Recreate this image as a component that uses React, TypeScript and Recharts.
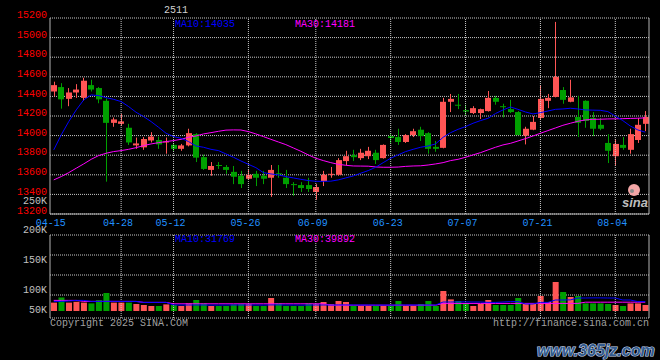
import { ComposedChart, Bar, Line, XAxis, YAxis, CartesianGrid, ReferenceLine, Cell } from 'recharts';

// trading days shown on the chart (MM-DD)
const DATES = [
  '04-15', '04-16', '04-17', '04-18', '04-21', '04-22', '04-23', '04-24', '04-25', '04-28', '04-29', '04-30',
  '05-06', '05-07', '05-08', '05-09', '05-12', '05-13', '05-14', '05-15', '05-16', '05-19', '05-20', '05-21',
  '05-22', '05-23', '05-26', '05-27', '05-28', '05-29', '05-30',
  '06-03', '06-04', '06-05', '06-06', '06-09', '06-10', '06-11', '06-12', '06-13', '06-16', '06-17', '06-18',
  '06-19', '06-20', '06-23', '06-24', '06-25', '06-26', '06-27', '06-30',
  '07-01', '07-02', '07-03', '07-04', '07-07', '07-08', '07-09', '07-10', '07-11', '07-14', '07-15', '07-16',
  '07-17', '07-18', '07-21', '07-22', '07-23', '07-24', '07-25', '07-28', '07-29', '07-30', '07-31',
  '08-01', '08-04', '08-05', '08-06', '08-07', '08-08',
];

const OPEN = [
  14450, 14495, 14375, 14440, 14385, 14515, 14485, 14355, 14130, 14120,
  14080, 13900, 13880, 13950, 13955, 13935, 13905, 13865, 13900, 14015,
  13780, 13650, 13700, 13680, 13630, 13590, 13560, 13610, 13590, 13570,
  13615, 13570, 13505, 13495, 13495, 13425, 13535, 13605, 13600, 13740,
  13800, 13770, 13790, 13825, 13770, 13995, 13985, 13935, 14005, 14060,
  14025, 13885, 13875, 14345, 14315, 14260, 14230, 14230, 14250, 14385,
  14300, 14270, 14240, 14000, 14060, 14180, 14355, 14395, 14465, 14345,
  14190, 14355, 14180, 14110, 13925, 13790, 13905, 13855, 13955, 14120,
];
const HIGH = [
  14550, 14535, 14485, 14525, 14590, 14570, 14495, 14380, 14185, 14220,
  14120, 13980, 13985, 14035, 13990, 13980, 13920, 13915, 14070, 14025,
  13805, 13730, 13730, 13700, 13690, 13640, 13650, 13640, 13640, 13700,
  13700, 13650, 13525, 13525, 13570, 13505, 13640, 13680, 13770, 13845,
  13855, 13865, 13885, 13855, 13910, 14015, 14070, 14015, 14070, 14090,
  14035, 13945, 14385, 14425, 14425, 14315, 14300, 14275, 14455, 14405,
  14325, 14365, 14250, 14090, 14200, 14515, 14425, 15160, 14495, 14570,
  14405, 14360, 14240, 14180, 14015, 13965, 13985, 14070, 14180, 14250,
];
const LOW = [
  14400, 14275, 14300, 14385, 14355, 14450, 14330, 13530, 14090, 14100,
  13905, 13865, 13855, 13930, 13865, 13815, 13845, 13845, 13890, 13730,
  13650, 13590, 13660, 13610, 13505, 13465, 13555, 13485, 13505, 13375,
  13570, 13465, 13385, 13425, 13425, 13345, 13485, 13570, 13590, 13700,
  13740, 13750, 13760, 13710, 13765, 13925, 13905, 13925, 13985, 13945,
  13815, 13835, 13870, 14240, 14270, 14210, 14220, 14170, 14245, 14315,
  14185, 14230, 14005, 13910, 14055, 14160, 14280, 14390, 14325, 14340,
  13985, 14080, 13995, 14055, 13720, 13690, 13855, 13815, 13925, 14045,
];
const CLOSE = [
  14515, 14370, 14440, 14470, 14560, 14470, 14370, 14130, 14165, 14145,
  13930, 13920, 13965, 13990, 13910, 13940, 13865, 13900, 14025, 13775,
  13660, 13690, 13690, 13650, 13580, 13505, 13600, 13570, 13560, 13650,
  13605, 13505, 13495, 13465, 13455, 13475, 13600, 13610, 13750, 13790,
  13780, 13825, 13845, 13750, 13905, 13975, 13935, 14005, 14045, 13995,
  13865, 13865, 14345, 14375, 14305, 14245, 14280, 14270, 14385, 14345,
  14290, 14240, 14005, 14070, 14140, 14375, 14385, 14600, 14365, 14390,
  14130, 14150, 14070, 14070, 13845, 13915, 13875, 14015, 14110, 14190,
];

const MA10 = [
  13854, 14007, 14143, 14262, 14364, 14415, 14408, 14387, 14370, 14347,
  14296, 14238, 14194, 14143, 14085, 14024, 13990, 13973, 13939, 13894,
  13881, 13860, 13847, 13813, 13779, 13741, 13707, 13673, 13622, 13609,
  13599, 13582, 13568, 13554, 13541, 13534, 13533, 13535, 13548, 13568,
  13588, 13616, 13643, 13677, 13724, 13769, 13803, 13837, 13860, 13881,
  13894, 13915, 13983, 14030, 14064, 14092, 14126, 14153, 14177, 14225,
  14262, 14292, 14268, 14241, 14221, 14234, 14251, 14268, 14272, 14279,
  14272, 14262, 14260, 14258, 14245, 14200, 14153, 14098, 14058, 14035,
];
const MA30 = [
  13548, 13582, 13622, 13667, 13711, 13758, 13796, 13820, 13837, 13847,
  13860, 13877, 13898, 13915, 13928, 13939, 13949, 13962, 13983, 13996,
  14017, 14030, 14044, 14056, 14058, 14057, 14041, 14017, 13990, 13962,
  13935, 13908, 13874, 13840, 13803, 13769, 13745, 13724, 13707, 13697,
  13690, 13689, 13688, 13680, 13677, 13677, 13679, 13686, 13690, 13692,
  13700, 13711, 13724, 13745, 13758, 13779, 13803, 13826, 13854, 13881,
  13905, 13921, 13945, 13969, 13996, 14024, 14051, 14078, 14105, 14126,
  14146, 14160, 14166, 14167, 14170, 14171, 14173, 14175, 14177, 14181,
];

const VOLUME = [
  21000, 34000, 21000, 23000, 21000, 19000, 27000, 45000, 21000, 21000,
  21000, 17500, 15000, 12500, 12500, 16500, 15000, 12500, 19000, 27500,
  19000, 12500, 12500, 12500, 16500, 17500, 17500, 12500, 12500, 32500,
  19000, 12500, 12500, 12500, 19000, 17500, 22500, 17500, 25000, 22500,
  12500, 12500, 12500, 12500, 12500, 12500, 25000, 12500, 12500, 17500,
  25000, 12500, 50000, 29000, 25000, 19000, 12500, 17500, 27500, 15000,
  15000, 15000, 32500, 19000, 19000, 37500, 22500, 72500, 47500, 35000,
  37500, 19000, 19000, 19000, 17500, 15000, 12500, 19000, 19000, 15000,
];
const VOL_MA10 = [
  24000, 24000, 25000, 26500, 26500, 24000, 24000, 24200, 24200, 24000,
  24000, 23800, 21500, 21500, 21500, 21500, 15200, 15000, 15000, 15000,
  15000, 14800, 14800, 15000, 15000, 15000, 15000, 15000, 14800, 15200,
  15200, 15000, 15000, 14800, 14800, 15000, 15000, 15000, 15200, 15200,
  15000, 15000, 15000, 14800, 14800, 14800, 15000, 15000, 15000, 15000,
  15000, 15000, 22500, 22500, 22800, 22800, 22500, 22500, 21500, 21500,
  22500, 23500, 23500, 17500, 17500, 21500, 21500, 27500, 27500, 27800,
  32500, 32500, 32800, 32800, 32500, 32500, 27500, 27500, 23500, 23500,
];
const VOL_MA30 = [
  26500, 26500, 26500, 26500, 24000, 24000, 24000, 24000, 24000, 24000,
  24000, 24000, 21500, 21500, 21500, 21500, 18000, 18000, 18000, 18000,
  18000, 18000, 18000, 18000, 18000, 18000, 18000, 18000, 18000, 18000,
  18000, 18000, 18000, 18000, 18000, 18000, 18000, 14500, 14500, 14500,
  14500, 14500, 14500, 14500, 14500, 14500, 14500, 14500, 14500, 14500,
  14500, 14500, 19000, 19000, 19000, 19000, 19000, 19000, 19000, 19000,
  19000, 19000, 19000, 19000, 19000, 19000, 19000, 19000, 19000, 19000,
  19000, 22000, 22000, 22000, 22000, 22000, 22000, 22000, 22000, 22000,
];

const DATE_TICKS = ['04-15', '04-28', '05-12', '05-26', '06-09', '06-23', '07-07', '07-21', '08-04'];
const PRICE_TICKS = [13200, 13400, 13600, 13800, 14000, 14200, 14400, 14600, 14800, 15000, 15200];
const VOL_TICKS = [40000, 90000, 140000, 190000];
const VOL_TICK_LABELS = ['50K', '100K', '150K', '200K'];

const UP = '#ff5555';
const DOWN = '#00a000';
const GRID = '#c8c8c8';
const FRAME = '#b4b4b4';
const MONO = '"Liberation Mono", "DejaVu Sans Mono", monospace';

const rows = DATES.map((d, i) => ({
  d,
  o: OPEN[i],
  h: HIGH[i],
  l: LOW[i],
  c: CLOSE[i],
  range: [LOW[i], HIGH[i]],
  ma10: MA10[i],
  ma30: MA30[i],
  v: VOLUME[i],
  vma10: VOL_MA10[i],
  vma30: VOL_MA30[i],
}));

// candle drawn inside the [low, high] bar the library positions
function Candle(props: any) {
  const { x, y, width, height, payload } = props;
  const { o, h, l, c } = payload;
  const top = Math.min(y, y + height);
  const span = Math.abs(height);
  const py = (p: number) => (h === l ? top : top + ((h - p) / (h - l)) * span);
  const color = c >= o ? UP : DOWN;
  const cx = Math.floor(x + width / 2) + 0.5;
  const bodyTop = py(Math.max(o, c));
  const bodyH = Math.max(1, py(Math.min(o, c)) - bodyTop);
  return (
    <g>
      <line x1={cx} x2={cx} y1={top} y2={top + span} stroke={color} strokeWidth={1} />
      <rect x={Math.round(x)} y={bodyTop} width={width} height={bodyH} fill={color} />
    </g>
  );
}

function PriceTick(props: any) {
  const { x, y, payload } = props;
  return (
    <text x={x} y={y - 2.5} textAnchor="end" dominantBaseline="middle" style={{ fill: '#ff0000', fontSize: 10, fontFamily: MONO }}>
      {payload.value}
    </text>
  );
}

function DateTick(props: any) {
  const { x, y, payload } = props;
  return (
    <text x={x - 3} y={y + 8.5} textAnchor="middle" style={{ fill: '#2090ff', fontSize: 10, fontFamily: MONO }}>
      {payload.value}
    </text>
  );
}

// volume labels sit a little off the grid lines in the original
const VOL_LABEL_SHIFT = [15, 15, 5, -5];
function VolTick(props: any) {
  const { x, y, payload } = props;
  const k = VOL_TICKS.indexOf(payload.value);
  const style = { fill: '#c0c0c0', fontSize: 10, fontFamily: MONO };
  return (
    <g>
      <text x={x} y={y + VOL_LABEL_SHIFT[k]} textAnchor="end" dominantBaseline="middle" style={style}>
        {VOL_TICK_LABELS[k]}
      </text>
      {k === 3 && (
        <text x={x} y={y - 34} textAnchor="end" dominantBaseline="middle" style={style}>
          250K
        </text>
      )}
    </g>
  );
}

const layer = { position: 'absolute' as const, left: 0, top: 0 };

export default function App() {
  return (
    <div style={{ position: 'absolute', left: 0, top: 0, width: 660, height: 360, background: '#000', overflow: 'hidden' }}>
      <div style={layer}>
        <ComposedChart width={660} height={360} data={rows} margin={{ top: 18, right: 0, bottom: 130, left: 0 }}>
          <CartesianGrid vertical={false} stroke={GRID} strokeDasharray="1 1" />
          <XAxis
            dataKey="d"
            ticks={DATE_TICKS}
            interval={0}
            height={16}
            tickSize={0}
            tickMargin={3}
            tickLine={false}
            axisLine={{ stroke: FRAME }}
            tick={DateTick}
          />
          <XAxis xAxisId="top" dataKey="d" orientation="top" height={0} tick={false} tickLine={false} axisLine={{ stroke: FRAME }} />
          <YAxis
            domain={[13200, 15200]}
            ticks={PRICE_TICKS}
            interval={0}
            width={50}
            tickSize={0}
            tickMargin={3}
            tickLine={false}
            axisLine={{ stroke: FRAME }}
            tick={PriceTick}
          />
          <YAxis yAxisId="right" orientation="right" domain={[13200, 15200]} width={11} tick={false} tickLine={false} axisLine={{ stroke: FRAME }} />
          {DATE_TICKS.slice(1).map((d) => (
            <ReferenceLine key={d} x={d} stroke={GRID} strokeDasharray="1 1" />
          ))}
          <Bar dataKey="range" barSize={6} shape={Candle} isAnimationActive={false} />
          <Line dataKey="ma30" stroke="#ff00ff" strokeWidth={1} dot={false} activeDot={false} isAnimationActive={false} />
          <Line dataKey="ma10" stroke="#0000ff" strokeWidth={1} dot={false} activeDot={false} isAnimationActive={false} />
        </ComposedChart>
      </div>

      <div style={layer}>
        <ComposedChart width={660} height={360} data={rows} margin={{ top: 235, right: 0, bottom: 42, left: 0 }}>
          <CartesianGrid vertical={false} stroke={GRID} strokeDasharray="1 1" />
          <XAxis dataKey="d" height={0} tick={false} tickLine={false} axisLine={{ stroke: FRAME }} />
          <XAxis xAxisId="top" dataKey="d" orientation="top" height={0} tick={false} tickLine={false} axisLine={{ stroke: FRAME }} />
          <YAxis
            domain={[-17500, 190000]}
            ticks={VOL_TICKS}
            interval={0}
            width={50}
            tickSize={0}
            tickMargin={3}
            tickLine={false}
            axisLine={{ stroke: FRAME }}
            tick={VolTick}
          />
          <YAxis yAxisId="right" orientation="right" domain={[-17500, 190000]} width={11} tick={false} tickLine={false} axisLine={{ stroke: FRAME }} />
          {DATE_TICKS.slice(1).map((d) => (
            <ReferenceLine key={d} x={d} stroke={GRID} strokeDasharray="1 1" />
          ))}
          <Bar dataKey="v" barSize={6} isAnimationActive={false}>
            {rows.map((r, i) => (
              <Cell key={i} fill={r.c >= r.o ? UP : DOWN} />
            ))}
          </Bar>
          <Line dataKey="vma30" stroke="#ff00ff" strokeWidth={1} dot={false} activeDot={false} isAnimationActive={false} />
          <Line dataKey="vma10" stroke="#0000ff" strokeWidth={1} dot={false} activeDot={false} isAnimationActive={false} />
        </ComposedChart>
      </div>

      <svg width={660} height={360} style={{ ...layer, pointerEvents: 'none' }}>
        <g fontFamily={MONO} fontSize={10}>
          <text x={164} y={13} fill="#d0d0d0">2511</text>
          <text x={175} y={27} fill="#0000ff">MA10:14035</text>
          <text x={295} y={27} fill="#ff00ff">MA30:14181</text>
          <text x={175} y={242} fill="#0000ff">MA10:31769</text>
          <text x={295} y={242} fill="#ff00ff">MA30:39892</text>
          <text x={50} y={326} fill="#a0a0a0">Copyright 2025 SINA.COM</text>
          <text x={649} y={326} fill="#a0a0a0" textAnchor="end">http://finance.sina.com.cn</text>
        </g>
        <circle cx={634} cy={190} r={6} fill="#f3a6a6" />
        <circle cx={632} cy={191} r={2} fill="#8a8a8a" />
        <text x={635} y={207} textAnchor="middle" fontFamily="Liberation Sans" fontWeight="bold" fontStyle="italic" fontSize={13} fill="#bdbdbd">
          sina
        </text>
        <text
          x={537}
          y={356}
          fontFamily="Liberation Sans"
          fontWeight="bold"
          fontStyle="italic"
          fontSize={16}
          fill="#335b8e"
          stroke="#d0dcf0"
          strokeWidth={1.2}
          paintOrder="stroke"
        >
          www.365jz.com
        </text>
      </svg>
    </div>
  );
}
